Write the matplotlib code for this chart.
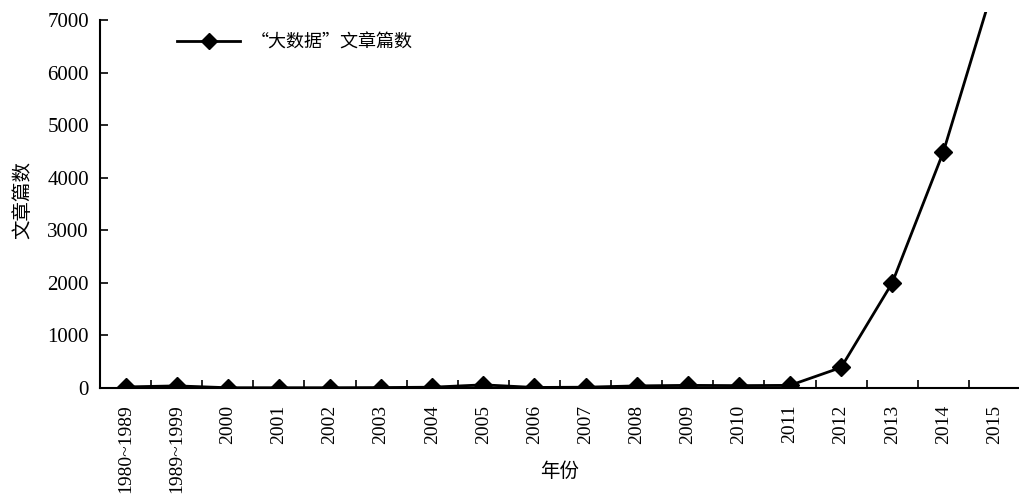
import matplotlib.pyplot as plt
import numpy as np

plt.rcParams['font.family'] = ['Liberation Serif', 'Noto Sans CJK SC']

years = ['1980~1989', '1989~1999', '2000', '2001', '2002', '2003', '2004', '2005',
         '2006', '2007', '2008', '2009', '2010', '2011', '2012', '2013', '2014', '2015']
articles = [20, 40, 5, 5, 5, 8, 15, 60, 10, 15, 40, 50, 45, 50, 390, 2000, 4490, 7700]
# thin trace running just under the main series in the mid years
trace_years = ['2004', '2005', '2006', '2007', '2008', '2009', '2010', '2011']
trace_vals = [10, 25, 5, 10, 20, 25, 20, 25]

y_ticks = [0, 1000, 2000, 3000, 4000, 5000, 6000, 7000]

CJK = ['Noto Sans CJK SC', 'Liberation Serif']


def main():
    fig = plt.figure(figsize=(10.2, 4.94), dpi=100)
    ax = fig.add_axes([0.098, 0.2146, 0.902, 0.761])

    x = np.arange(len(years))
    tx = [years.index(y) for y in trace_years]
    ax.plot(tx, trace_vals, color='#555555', lw=0.9, zorder=2)
    ax.plot(x, articles, color='black', lw=2.0, marker='D', markersize=9.5,
            label='“大数据”文章篇数', zorder=3)

    ax.set_xlim(-0.5, len(years) - 0.5)
    ax.set_ylim(0, 7152)
    ax.spines['left'].set_bounds(0, 7000)
    ax.spines['top'].set_visible(False)
    ax.spines['right'].set_visible(False)
    for s in ['left', 'bottom']:
        ax.spines[s].set_linewidth(1.5)

    ax.set_yticks(y_ticks)
    ax.set_yticklabels([str(v) for v in y_ticks], fontsize=15)
    ax.set_xticks(x)
    ax.set_xticklabels(years, rotation=90, fontsize=14, va='top')
    ax.set_xticks(np.arange(len(years) - 1) + 0.5, minor=True)
    ax.tick_params(axis='x', which='major', length=0, pad=12)
    ax.tick_params(axis='x', which='minor', direction='in', length=6, width=1.2)
    ax.tick_params(axis='y', direction='in', length=6, width=1.2, pad=8)

    ax.set_xlabel('年份', fontsize=14, family=CJK, fontweight='light')
    ax.xaxis.set_label_coords(0.5, -0.195)
    ax.set_ylabel('文章篇数', fontsize=14, family=CJK, fontweight='light',
                  labelpad=10)

    ax.legend(loc='center left', bbox_to_anchor=(0.066, 0.92), frameon=False,
              prop={'family': CJK, 'size': 13, 'weight': 'light'},
              handlelength=3.5, handletextpad=0.6, markerscale=0.85)

    fig.savefig('out.png', dpi=100)


main()
